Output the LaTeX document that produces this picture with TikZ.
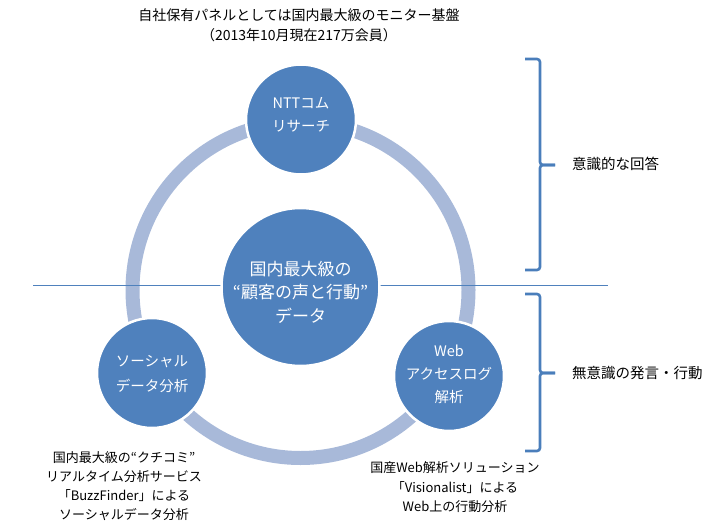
\documentclass[tikz,border=0pt]{standalone}
\usepackage{fontspec}
\newfontfamily\jp{Noto Sans CJK JP}
\definecolor{cblue}{HTML}{4F81BD}
\definecolor{ringc}{HTML}{A8B9D9}
\definecolor{brkc}{HTML}{4A7EBB}
\tikzset{
  ringstyle/.style={draw=ringc, line width=14pt},
  bubble/.style={circle, fill=cblue, draw=white, line width=2.5pt, inner sep=0pt, text=white, align=center},
  small/.style={bubble, minimum size=110pt, font=\jp\fontsize{14.5}{23}\selectfont},
  big/.style={bubble, minimum size=158pt, font=\jp\fontsize{17}{23.5}\selectfont},
  label/.style={text=black, align=center, inner sep=0pt},
  brk/.style={draw=brkc, line width=2.6pt, rounded corners=3pt},
  sepline/.style={draw=cblue, line width=1pt}
}
\begin{document}
\begin{tikzpicture}[x=1pt, y=-1pt]
\useasboundingbox (0,0) rectangle (725,532);
% ring
\draw[ringstyle] (300.5,290) circle[radius=168pt];
% separator line
\coordinate (L1) at (33,285);
\coordinate (L2) at (608,285);
\draw[sepline] (L1) -- (L2);
% circles
\node[big] (center) at (300.5,287) {};
\node[label, text=white, font=\jp\fontsize{17}{23.5}\selectfont] (ctext) at (300.5,292) {国内最大級の\\“顧客の声と行動”\\データ};
\node[small] (top) at (301,119.5) {};
\node[label, text=white, font=\jp\fontsize{14.5}{23.5}\selectfont] (toptext) at (301,115) {NTTコム\\リサーチ};
\node[small] (bl) at (152,373) {};
\node[label, text=white, font=\jp\fontsize{14.5}{25}\selectfont] (bltext) at (152,374.5) {ソーシャル\\データ分析};
\node[small] (br) at (449,376) {};
\node[label, text=white, font=\jp\fontsize{14.5}{23}\selectfont] (brtext) at (449,374) {Web\\アクセスログ\\解析};
% title
\node[label, font=\jp\fontsize{14}{20}\selectfont] (title) at (299,25) {自社保有パネルとしては国内最大級のモニター基盤\\（2013年10月現在217万会員）};
% bottom texts
\node[label, font=\jp\fontsize{13}{19}\selectfont] (bltxt) at (124,486.5) {国内最大級の“クチコミ”\\リアルタイム分析サービス\\「BuzzFinder」による\\ソーシャルデータ分析};
\node[label, font=\jp\fontsize{13}{19.5}\selectfont] (brtxt) at (455,487.5) {国産Web解析ソリューション\\「Visionalist」による\\Web上の行動分析};
% brackets
\draw[brk] (525,59) -- (540,59) -- (540,165) -- (555,165);
\draw[brk] (555,165) -- (540,165) -- (540,270) -- (525,270);
\draw[brk] (525,294) -- (540,294) -- (540,373) -- (555,373);
\draw[brk] (555,373) -- (540,373) -- (540,451) -- (525,451);
% bracket labels
\node[label, anchor=west, font=\jp\fontsize{14.5}{16}\selectfont] (lab1) at (572,164) {意識的な回答};
\node[label, anchor=west, font=\jp\fontsize{14.5}{16}\selectfont] (lab2) at (572,373) {無意識の発言・行動};
\end{tikzpicture}
\end{document}
